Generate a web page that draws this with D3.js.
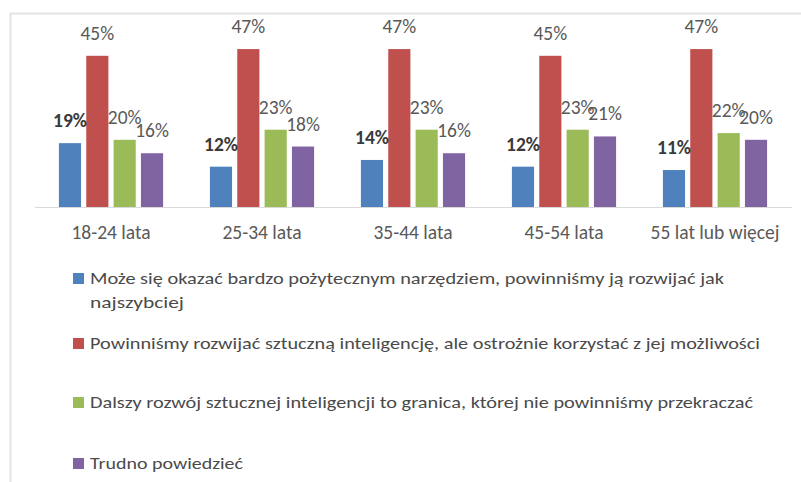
<!DOCTYPE html>
<html><head><meta charset="utf-8">
<script src="https://cdn.jsdelivr.net/npm/d3@7"></script>
<style>html,body{margin:0;padding:0;background:#fff;}svg{display:block;}</style>
</head><body><div id="chart"></div>
<script>
const categories = ["18-24 lata","25-34 lata","35-44 lata","45-54 lata","55 lat lub więcej"];
const seriesNames = [
  "Może się okazać bardzo pożytecznym narzędziem, powinniśmy ją rozwijać jak najszybciej",
  "Powinniśmy rozwijać sztuczną inteligencję, ale ostrożnie korzystać z jej możliwości",
  "Dalszy rozwój sztucznej inteligencji to granica, której nie powinniśmy przekraczać",
  "Trudno powiedzieć"
];
const legendLines = [
  ["Może się okazać bardzo pożytecznym narzędziem, powinniśmy ją rozwijać jak", "najszybciej"],
  ["Powinniśmy rozwijać sztuczną inteligencję, ale ostrożnie korzystać z jej możliwości"],
  ["Dalszy rozwój sztucznej inteligencji to granica, której nie powinniśmy przekraczać"],
  ["Trudno powiedzieć"]
];
const szybko = [19, 12, 14, 12, 11];
const ostroznie = [45, 47, 47, 45, 47];
const granica = [20, 23, 23, 23, 22];
const trudno = [16, 18, 16, 21, 20];
const seriesValues = [szybko, ostroznie, granica, trudno];
const colors = ["#4F81BD", "#C0504D", "#9BBB59", "#8064A2"];

const W = 801, H = 482;
const svg = d3.select("#chart").append("svg").attr("width", W).attr("height", H);
const font = "Carlito, Lato, sans-serif";

// frame
svg.append("line").attr("x1", 10).attr("x2", W).attr("y1", 13.5).attr("y2", 13.5).attr("stroke", "#e4e4e4").attr("stroke-width", 2);
svg.append("line").attr("x1", 10.5).attr("x2", 10.5).attr("y1", 13).attr("y2", H).attr("stroke", "#e4e4e4").attr("stroke-width", 2);

const x0 = d3.scaleBand().domain(categories).range([35.5, 790.5]).paddingInner(0.31).paddingOuter(0.155);
const x1 = d3.scaleBand().domain(d3.range(4)).range([0, x0.bandwidth()]).paddingInner(0.19);
const y = d3.scaleLinear().domain([0, 50]).range([207, 39]);

const groups = svg.selectAll("g.grp").data(categories).join("g")
  .attr("transform", d => `translate(${x0(d)},0)`);

groups.each(function(cat, ci) {
  const g = d3.select(this);
  seriesValues.forEach((vals, si) => {
    const v = vals[ci];
    g.append("rect").attr("x", x1(si)).attr("y", y(v)).attr("width", x1.bandwidth()).attr("height", y(0) - y(v)).attr("fill", colors[si]);
  });
  seriesValues.forEach((vals, si) => {
    const v = vals[ci];
    g.append("text").attr("x", x1(si) + x1.bandwidth() / 2).attr("y", y(v) - 16)
      .attr("text-anchor", "middle").attr("font-family", font).attr("font-size", 19.5)
      .attr("font-weight", si === 0 ? 700 : 400)
      .attr("fill", si === 0 ? "#3a3a3a" : "#595959").text(v + "%");
  });
});

// axis
const axis = svg.append("g").attr("transform", `translate(0,${y(0)})`)
  .call(d3.axisBottom(x0).tickSize(0).tickPadding(0));
axis.select(".domain").attr("stroke", "#d9d9d9").attr("d", "M35,0.5H792");
axis.selectAll("text").attr("font-family", font).attr("font-size", 19.5).attr("fill", "#595959").attr("dy", null).attr("y", 32);

// legend
const legendY = [284, 349, 408, 469];
const legendWidths = [[634, 94], [670], [663], [153]];
const leg = svg.append("g");
legendLines.forEach((lines, i) => {
  leg.append("rect").attr("x", 73).attr("y", legendY[i] - 11).attr("width", 11).attr("height", 11).attr("fill", colors[i]);
  lines.forEach((ln, j) => {
    leg.append("text").attr("x", 90).attr("y", legendY[i] + j * 24)
      .attr("font-family", font).attr("font-size", 17).attr("fill", "#4a4a4a")
      .attr("textLength", legendWidths[i][j]).attr("lengthAdjust", "spacingAndGlyphs").text(ln);
  });
});
</script></body></html>
